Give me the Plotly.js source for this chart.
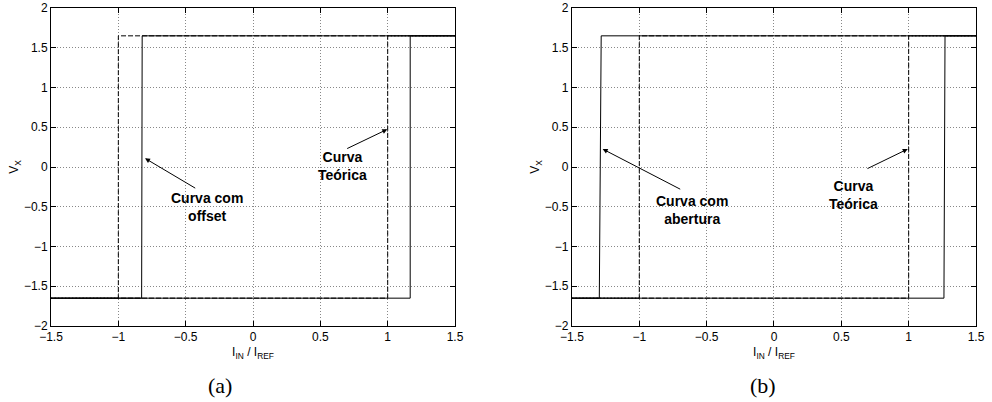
<!DOCTYPE html>
<html><head><meta charset="utf-8">
<script src="https://cdn.plot.ly/plotly-3.0.1.min.js"></script>
<style>body{margin:0;background:#fff}#c{width:992px;height:402px}</style>
</head><body><div id="c"></div>
<script>
// Theoretical curve (both panels): switching at ±1
const theoX = [-1.5, 1.0, 1.0, 1.5, null, 1.5, -1.0, -1.0, -1.5];
const theoY = [-1.65, -1.65, 1.65, 1.65, null, 1.65, 1.65, -1.65, -1.65];
// (a) curve with offset
const offX = [-1.5, 1.167, 1.167, 1.5, null, 1.5, -0.823, -0.827, -1.5];
const offY = [-1.65, -1.65, 1.65, 1.65, null, 1.65, 1.65, -1.65, -1.65];
// (b) curve with opening (abertura)
const aberX = [-1.5, 1.262, 1.27, 1.5, null, 1.5, -1.283, -1.297, -1.5];
const aberY = [-1.65, -1.65, 1.65, 1.65, null, 1.65, 1.65, -1.65, -1.65];
const xTicks = [-1.5, -1, -0.5, 0, 0.5, 1, 1.5];
const yTicks = [-2, -1.5, -1, -0.5, 0, 0.5, 1, 1.5, 2];

const dashed = {color: '#000', width: 1, dash: '5px,2px'};
const solid = {color: '#000', width: 1};
const traces = [
  {x: theoX, y: theoY, xaxis: 'x', yaxis: 'y', mode: 'lines', line: dashed, hoverinfo: 'skip'},
  {x: offX, y: offY, xaxis: 'x', yaxis: 'y', mode: 'lines', line: solid, hoverinfo: 'skip'},
  {x: theoX, y: theoY, xaxis: 'x2', yaxis: 'y2', mode: 'lines', line: dashed, hoverinfo: 'skip'},
  {x: aberX, y: aberY, xaxis: 'x2', yaxis: 'y2', mode: 'lines', line: solid, hoverinfo: 'skip'}
];

const tickFont = {family: 'Liberation Sans, Arial, sans-serif', size: 12, color: '#000'};
function xa(domain, anchor) {
  return {domain: domain, anchor: anchor, range: [-1.5, 1.5], tickvals: xTicks,
    ticks: 'inside', ticklen: 5, tickcolor: '#000', mirror: 'ticks', showline: true,
    linecolor: '#000', linewidth: 1, showgrid: true, gridcolor: '#888', griddash: '1px,2px',
    gridwidth: 1, zeroline: false, tickfont: tickFont, automargin: false,
    title: {text: 'I<sub>IN</sub> / I<sub>REF</sub>', font: {family: 'Liberation Sans, Arial, sans-serif', size: 12, color: '#000'}, standoff: 4}};
}
function ya(anchor) {
  return {domain: [0, 1], anchor: anchor, range: [-2, 2], tickvals: yTicks,
    ticks: 'inside', ticklen: 5, tickcolor: '#000', mirror: 'ticks', showline: true,
    linecolor: '#000', linewidth: 1, showgrid: true, gridcolor: '#888', griddash: '1px,2px',
    gridwidth: 1, zeroline: false, tickfont: tickFont, automargin: false,
    title: {text: 'V<sub>X</sub>', font: {family: 'Liberation Sans, Arial, sans-serif', size: 12, color: '#000'}, standoff: 2}};
}

const lblFont = {family: 'Liberation Sans, Arial, sans-serif', size: 14, color: '#000'};
function txt(xref, yref, x, y, t) {
  return {xref: xref, yref: yref, x: x, y: y, text: '<b>' + t + '</b>', showarrow: false, font: lblFont, align: 'center'};
}
function arr(xref, yref, hx, hy, tx, ty) {
  return {xref: xref, yref: yref, axref: xref, ayref: yref, x: hx, y: hy, ax: tx, ay: ty, text: '',
    showarrow: true, arrowhead: 2, arrowsize: 1, arrowwidth: 1, arrowcolor: '#000'};
}
const capFont = {family: 'Liberation Serif, DejaVu Serif, serif', size: 22, color: '#000'};

const layout = {
  width: 992, height: 402, paper_bgcolor: '#fff', plot_bgcolor: '#fff', showlegend: false,
  margin: {l: 51, r: 16, t: 8, b: 76},
  xaxis: xa([0, 0.4368], 'y'), yaxis: ya('x'),
  xaxis2: xa([0.5632, 1], 'y2'), yaxis2: ya('x2'),
  annotations: [
    txt('x', 'y', -0.342, -0.503, 'Curva com<br>offset'),
    arr('x', 'y', -0.802, 0.109, -0.418, -0.277),
    txt('x', 'y', 0.661, 0.013, 'Curva<br>Teórica'),
    arr('x', 'y', 0.997, 0.474, 0.688, 0.223),
    txt('x2', 'y2', -0.609, -0.541, 'Curva com<br>abertura'),
    arr('x2', 'y2', -1.272, 0.226, -0.685, -0.289),
    txt('x2', 'y2', 0.59, -0.358, 'Curva<br>Teórica'),
    arr('x2', 'y2', 0.993, 0.226, 0.683, -0.029),
    {xref: 'paper', yref: 'paper', x: (220 - 51) / 925, y: -(385 - 326) / 318, text: '(a)', showarrow: false, font: capFont, xanchor: 'center', yanchor: 'middle'},
    {xref: 'paper', yref: 'paper', x: (763 - 51) / 925, y: -(385 - 326) / 318, text: '(b)', showarrow: false, font: capFont, xanchor: 'center', yanchor: 'middle'}
  ]
};
Plotly.newPlot('c', traces, layout, {staticPlot: true, displayModeBar: false});
</script></body></html>
